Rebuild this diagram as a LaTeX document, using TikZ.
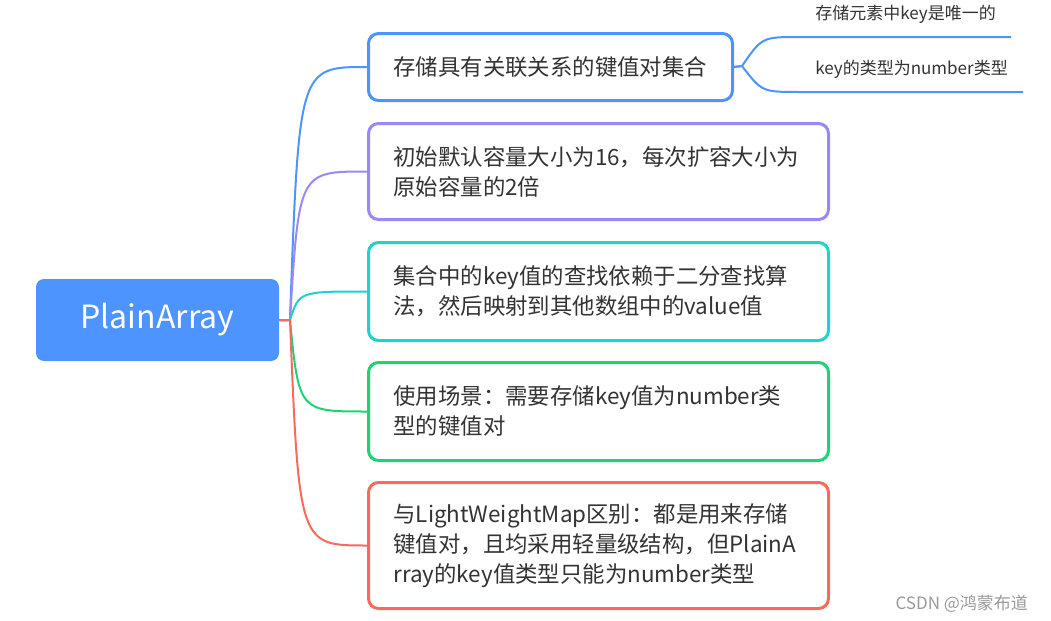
\documentclass[tikz,border=0pt]{standalone}
\usepackage{fontspec}
\newfontfamily\cjk{Noto Sans CJK SC}
\usetikzlibrary{calc}
\definecolor{xblue}{HTML}{4D94FF}
\definecolor{xpurple}{HTML}{9B87F5}
\definecolor{xteal}{HTML}{1FD2CE}
\definecolor{xgreen}{HTML}{1DD475}
\definecolor{xred}{HTML}{F86B5C}
\definecolor{xtext}{HTML}{333333}

\begin{document}
\begin{tikzpicture}[x=0.5pt, y=-0.5pt,
    topic/.style={draw=#1, line width=1.5pt, rounded corners=5pt, fill=white, anchor=north west,
      inner xsep=12.5pt, text width=205pt, align=left, text=xtext, font=\cjk\fontsize{11.2}{15}\selectfont},
    branch/.style={draw=#1, line width=1pt},
    leaf/.style={anchor=south west, inner xsep=7.5pt, inner ysep=6.5pt, text=xtext,
      font=\cjk\fontsize{8.5}{10}\selectfont}]

      \useasboundingbox (0,0) rectangle (1051,621);

      \node[fill=xblue, rounded corners=4pt, minimum width=121.5pt, minimum height=41pt, text=white,
        font=\cjk\fontsize{16}{19}\selectfont] (root) at (157.5,320) {PlainArray};

      \node[topic=xblue, text width=157pt, minimum height=33.5pt] (b1) at (367,32) {存储具有关联关系的键值对集合};
      \node[topic=xpurple, minimum height=48pt] (b2) at (367,122) {初始默认容量大小为16，每次扩容大小为\\原始容量的2倍};
      \node[topic=xteal, minimum height=49pt] (b3) at (367,241) {集合中的key值的查找依赖于二分查找算\\法，然后映射到其他数组中的value值};
      \node[topic=xgreen, minimum height=49pt] (b4) at (367,361) {使用场景：需要存储key值为number类\\型的键值对};
      \node[topic=xred, minimum height=63pt] (b5) at (367,481) {与LightWeightMap区别：都是用来存储\\键值对，且均采用轻量级结构，但PlainA\\rray的key值类型只能为number类型};

      \node[leaf] (s1) at (800,37) {存储元素中key是唯一的};
      \node[leaf] (s2) at (800,92) {key的类型为number类型};

      \coordinate (J) at (290,320);
      \coordinate (Jc) at (299,320);
      \coordinate (K) at (742,66);
      \coordinate (Kc) at (762,66);

      \draw[branch=xblue] (root.east) -- (J) .. controls (Jc |- b1.west) .. (b1.west);
      \draw[branch=xpurple] (root.east) -- (J) .. controls (Jc |- b2.west) .. (b2.west);
      \draw[branch=xteal] (root.east) -- (J) .. controls (Jc |- b3.west) .. (b3.west);
      \draw[branch=xgreen] (root.east) -- (J) .. controls (Jc |- b4.west) .. (b4.west);
      \draw[branch=xred] (root.east) -- (J) .. controls (Jc |- b5.west) .. (b5.west);

      \draw[branch=xblue] (b1.east) -- (K) .. controls (Kc |- s1.south west) .. (s1.south west) -- (s1.south east);
      \draw[branch=xblue] (b1.east) -- (K) .. controls (Kc |- s2.south west) .. (s2.south west) -- (s2.south east);

      \node[anchor=east, text=gray!80, font=\cjk\fontsize{8.5}{10}\selectfont] (mark) at (1035,604) {CSDN @鸿蒙布道};
    \end{tikzpicture}
\end{document}
